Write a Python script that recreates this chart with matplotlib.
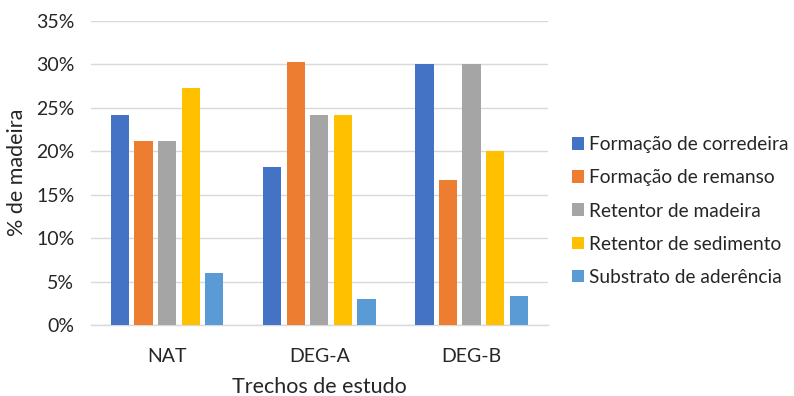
import matplotlib
matplotlib.use("Agg")
import matplotlib.pyplot as plt
import numpy as np

plt.rcParams['font.family'] = ['Lato', 'DejaVu Sans']

categories = ["NAT", "DEG-A", "DEG-B"]
series_names = ["Formação de corredeira", "Formação de remanso",
                "Retentor de madeira", "Retentor de sedimento",
                "Substrato de aderência"]
corredeira = [8 / 33, 6 / 33, 9 / 30]
remanso = [7 / 33, 10 / 33, 5 / 30]
ret_madeira = [7 / 33, 8 / 33, 9 / 30]
ret_sedimento = [9 / 33, 8 / 33, 6 / 30]
substrato = [2 / 33, 1 / 33, 1 / 30]
y_ticks = [0, 0.05, 0.10, 0.15, 0.20, 0.25, 0.30, 0.35]

series = [corredeira, remanso, ret_madeira, ret_sedimento, substrato]
colors = ["#4472C4", "#ED7D31", "#A5A5A5", "#FFC000", "#5B9BD5"]
text_color = "#262626"

fig = plt.figure(figsize=(7.94, 3.96), dpi=100)
ax = fig.add_axes([0.1146, 0.1785, 0.5752, 0.7685])

x = np.arange(len(categories))
step = 0.155
width = 0.12
handles = []
for i, (vals, col, name) in enumerate(zip(series, colors, series_names)):
    b = ax.bar(x + (i - 2) * step, vals, width=width, color=col, label=name,
               zorder=3)
    handles.append(b)

ax.set_xlim(-0.5, 2.5)
ax.set_ylim(0, 0.35)
ax.set_yticks(y_ticks)
ax.set_yticklabels([f"{int(round(t * 100))}%" for t in y_ticks])
ax.set_xticks(x)
ax.set_xticklabels(categories)
ax.yaxis.grid(True, color="#D9D9D9", linewidth=1, zorder=0)
for s in ["top", "right", "left"]:
    ax.spines[s].set_visible(False)
ax.spines["bottom"].set_color("#D9D9D9")
ax.spines["bottom"].set_linewidth(1)
ax.tick_params(axis="both", length=0, labelsize=14, colors=text_color)
ax.tick_params(axis="x", pad=16)
ax.tick_params(axis="y", pad=12)

fig.text(0.022, 0.566, "% de madeira", rotation=90, ha="center", va="center",
         fontsize=15.5, color=text_color)
fig.text(0.402, 0.022, "Trechos de estudo", ha="center", va="center",
         fontsize=15.5, color=text_color)

leg = fig.legend(handles=handles, loc="upper left",
                 bbox_to_anchor=(0.708, 0.68), frameon=False,
                 fontsize=13.8, handlelength=0.64, handleheight=0.64,
                 handletextpad=0.28, labelspacing=0.84, borderpad=0,
                 labelcolor=text_color)

fig.savefig("out.png", dpi=100)
